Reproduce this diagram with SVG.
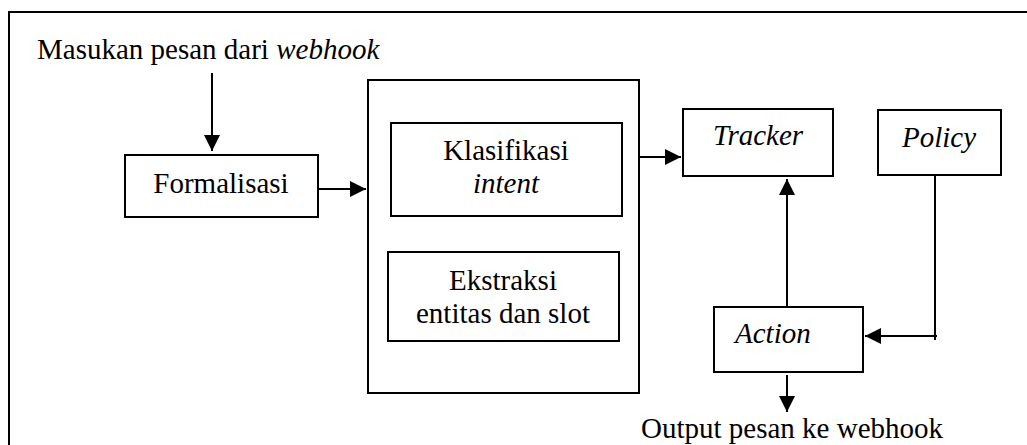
<svg xmlns="http://www.w3.org/2000/svg" width="1027" height="445" viewBox="0 0 1027 445">
<style>
.box{fill:#fff;stroke:#000;stroke-width:2}
.ln{fill:none;stroke:#000;stroke-width:2}
.t{font-family:'Liberation Serif','Times New Roman',serif;font-size:29px;fill:#000}
.c{text-anchor:middle}
.i{font-style:italic}
</style>
<defs>
<marker id="ah" viewBox="0 0 16 16" refX="16" refY="8" markerWidth="16" markerHeight="16" markerUnits="userSpaceOnUse" orient="auto">
<path d="M0,0 L16,8 L0,16 Z" fill="#000"/>
</marker>
</defs>
<rect width="1027" height="445" fill="#fff"/>
<g id="frame"><path class="ln" d="M9,445 V12 H1027"/></g>
<g id="input"><text class="t" x="37" y="59">Masukan pesan dari <tspan class="i">webhook</tspan></text></g>
<g id="formalisasi"><rect class="box" x="125" y="155" width="193" height="62"/><text class="t c" x="221" y="193">Formalisasi</text></g>
<g id="nlu"><rect class="box" x="368" y="80" width="271" height="313"/></g>
<g id="klasifikasi"><rect class="box" x="391" y="123" width="231" height="93"/><text class="t c" x="506" y="160">Klasifikasi</text><text class="t c i" x="506" y="193">intent</text></g>
<g id="ekstraksi"><rect class="box" x="388" y="252" width="231" height="89"/><text class="t c" x="503" y="290">Ekstraksi</text><text class="t c" x="503" y="323">entitas dan slot</text></g>
<g id="tracker"><rect class="box" x="683" y="109" width="150" height="67"/><text class="t c i" x="758" y="145">Tracker</text></g>
<g id="policy"><rect class="box" x="878" y="110" width="123" height="65"/><text class="t c i" x="939" y="147">Policy</text></g>
<g id="action"><rect class="box" x="714" y="307" width="149" height="65"/><text class="t i" x="735" y="343">Action</text></g>
<g id="output"><text class="t c" x="792" y="438">Output pesan ke webhook</text></g>
<g id="connectors">
<path class="ln" d="M212,73 V151" marker-end="url(#ah)"/>
<path class="ln" d="M318,189 H366" marker-end="url(#ah)"/>
<path class="ln" d="M639,157 H681" marker-end="url(#ah)"/>
<path class="ln" d="M787,307 V179" marker-end="url(#ah)"/>
<path class="ln" d="M935,175 V340"/>
<path class="ln" d="M937,336 H865" marker-end="url(#ah)"/>
<path class="ln" d="M787,375 V412" marker-end="url(#ah)"/>
</g>
</svg>
